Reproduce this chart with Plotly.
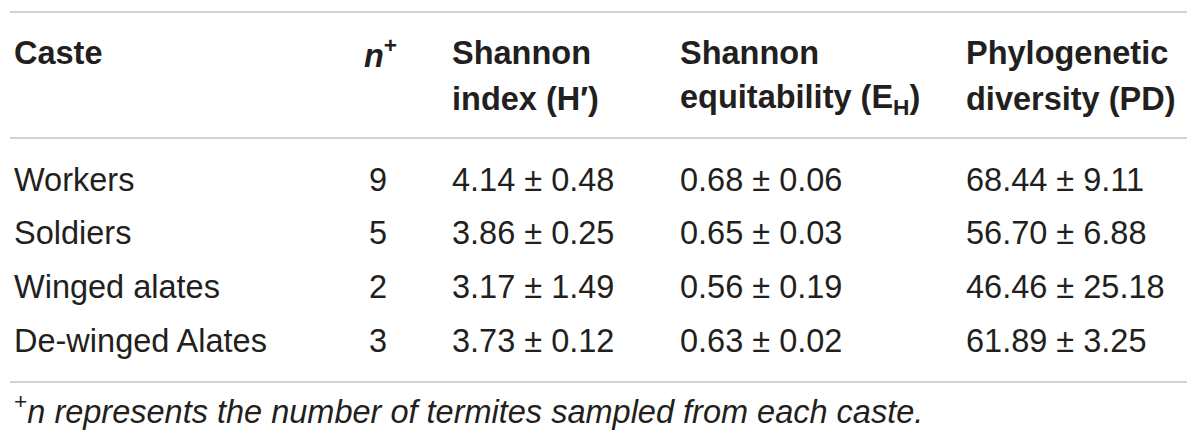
import plotly.graph_objects as go

# ---- data ----
castes = ["Workers", "Soldiers", "Winged alates", "De-winged Alates"]
n_samples = [9, 5, 2, 3]
shannon_mean = [4.14, 3.86, 3.17, 3.73]
shannon_sd = [0.48, 0.25, 1.49, 0.12]
equit_mean = [0.68, 0.65, 0.56, 0.63]
equit_sd = [0.06, 0.03, 0.19, 0.02]
pd_mean = [68.44, 56.70, 46.46, 61.89]
pd_sd = [9.11, 6.88, 25.18, 3.25]

header_line1 = ["Caste", "<i>n</i><sup>+</sup>", "Shannon", "Shannon", "Phylogenetic"]
header_line2 = ["", "", "index (H′)", "equitability (E<sub>H</sub>)", "diversity (PD)"]
footnote = "<sup>+</sup><i>n represents the number of termites sampled from each caste.</i>"

# ---- layout helpers (pixel -> paper) ----
W, H = 1200, 447
def px(x):
    return x / W
def py(y):
    return 1 - y / H

FONT = "Liberation Sans, Arial, Helvetica, sans-serif"
TXT = "#231f20"
RULE = "#d2d2d2"
FS_BODY = 32.5
FS_HEAD = 32.5

col_x = [12, 399, 450, 678, 964]
col_anchor = ["left", "right", "left", "left", "left"]
row_y = [180, 233, 287, 341]

annotations = []
def add(text, x, y, anchor="left", bold=False, size=FS_BODY):
    annotations.append(dict(
        text=f"<b>{text}</b>" if bold else text,
        x=px(x), y=py(y), xref="paper", yref="paper",
        xanchor=anchor, yanchor="middle", showarrow=False,
        font=dict(family=FONT, size=size, color=TXT),
    ))

# header
for i in range(5):
    add(header_line1[i], col_x[i], 53, col_anchor[i], bold=True, size=FS_HEAD)
    if header_line2[i]:
        add(header_line2[i], col_x[i], 99, col_anchor[i], bold=True, size=FS_HEAD)

# body
for r, caste in enumerate(castes):
    y = row_y[r]
    add(caste, col_x[0], y)
    add(str(n_samples[r]), 389, y, "right")
    add(f"{shannon_mean[r]:.2f} ± {shannon_sd[r]:.2f}", col_x[2], y)
    add(f"{equit_mean[r]:.2f} ± {equit_sd[r]:.2f}", col_x[3], y)
    add(f"{pd_mean[r]:.2f} ± {pd_sd[r]:.2f}", col_x[4], y)

add(footnote, 12, 409)

shapes = []
for yy in [12, 138, 382]:
    shapes.append(dict(type="line", xref="paper", yref="paper",
                       x0=px(10), x1=px(1187), y0=py(yy), y1=py(yy),
                       line=dict(color=RULE, width=2)))

fig = go.Figure()
fig.update_layout(
    width=W, height=H,
    margin=dict(l=0, r=0, t=0, b=0),
    paper_bgcolor="white", plot_bgcolor="white",
    xaxis=dict(visible=False), yaxis=dict(visible=False),
    annotations=annotations, shapes=shapes,
    showlegend=False,
)
fig.write_html("out.html",
               config={"displayModeBar": False},
               post_script="document.body.style.margin='0px';document.body.style.padding='0px';")
